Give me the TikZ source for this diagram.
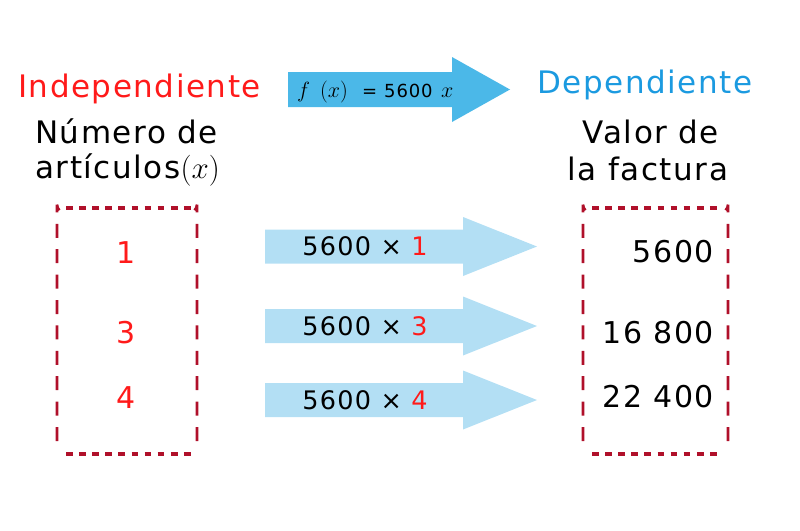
\RequirePackage{fix-cm}
\documentclass[tikz,border=0pt]{standalone}
\usepackage{fontspec}
\setmainfont{DejaVu Sans}[LetterSpace=5]
\definecolor{indep}{HTML}{FF1A1A}
\definecolor{dep}{HTML}{1B9AE0}
\definecolor{bigarrow}{HTML}{4BB8E8}
\definecolor{smallarrow}{HTML}{B3DFF4}
\definecolor{boxred}{HTML}{B0102A}
\definecolor{numred}{HTML}{FF1A1A}
\begin{document}
\begin{tikzpicture}[x=1pt,y=-1pt,
  big/.style={font=\fontsize{31}{36}\selectfont, inner sep=0pt},
  num/.style={font=\fontsize{30}{36}\selectfont, inner sep=0pt},
  calc/.style={font=\fontsize{25.5}{30}\selectfont, inner sep=0pt},
  fxtext/.style={font=\fontsize{18}{22}\selectfont, inner sep=0pt, anchor=base west},
  fxmath/.style={font=\fontsize{22}{26}\selectfont, inner sep=0pt, anchor=base west},
  sidedash/.style={draw=boxred, line width=2.8pt, dash pattern=on 14pt off 11.4pt},
  topdash/.style={draw=boxred, line width=4.5pt, dash pattern=on 6.7pt off 6.4pt}]
\useasboundingbox (0,0) rectangle (800,530);
% headings
\node[big, text=indep, anchor=base west] (indep) at (18,97) {Independiente};
\node[big, anchor=base west] (num1) at (35,143) {Número de};
\node[big, anchor=base west] (num2) at (35,178) {artículos$(x)$};
\node[big, text=dep, anchor=base west] (dep) at (537,93) {Dependiente};
\node[big, anchor=base] (val1) at (651,143) {Valor de};
\node[big, anchor=base] (val2) at (648,180) {la factura};
% big arrow
\fill[bigarrow] (288,72) -- (452,72) -- (452,57) -- (510,89.5) -- (452,122) -- (452,107) -- (288,107) -- cycle;
\node[fxmath] (ff) at (297,97.5) {$f$};
\node[fxmath] (fparen) at (320,97.5) {$(x)$};
\node[fxtext] (feq) at (362,97.5) {=};
\node[fxtext] (fnum) at (384,97.5) {5600};
\node[fxmath] (fx) at (441,97.5) {$x$};
% small arrows
\foreach \yc/\n [count=\i] in {246.5/1, 326/3, 400/4}{
  \fill[smallarrow] (265,\yc-17) -- (463,\yc-17) -- (463,\yc-29.5) -- (537,\yc) -- (463,\yc+29.5) -- (463,\yc+17) -- (265,\yc+17) -- cycle;
  \node[calc] (calc\i) at (365,\yc) {5600 × \textcolor{numred}{\n}};
}
% left box
\draw[sidedash] (59.3,210.3) arc (135:180:8) -- (57,446) arc (180:225:8);
\draw[sidedash] (194.7,210.3) arc (45:0:8) -- (197,446) arc (0:-45:8);
\draw[topdash] (66,208) -- (191,208);
\draw[topdash] (66,454) -- (191,454);
\node[num, text=numred] (x1) at (126,253) {1};
\node[num, text=numred] (x3) at (126,333) {3};
\node[num, text=numred] (x4) at (126,398) {4};
% right box
\draw[sidedash] (585.3,210.3) arc (135:180:8) -- (583,446) arc (180:225:8);
\draw[sidedash] (725.7,210.3) arc (45:0:8) -- (728,446) arc (0:-45:8);
\draw[topdash] (592,208) -- (721,208);
\draw[topdash] (592,454) -- (721,454);
\node[num, anchor=east] (y1) at (714,252) {5600};
\node[num, anchor=east] (y3) at (714,333) {16 800};
\node[num, anchor=east] (y4) at (714,397) {22 400};
\end{tikzpicture}
\end{document}
